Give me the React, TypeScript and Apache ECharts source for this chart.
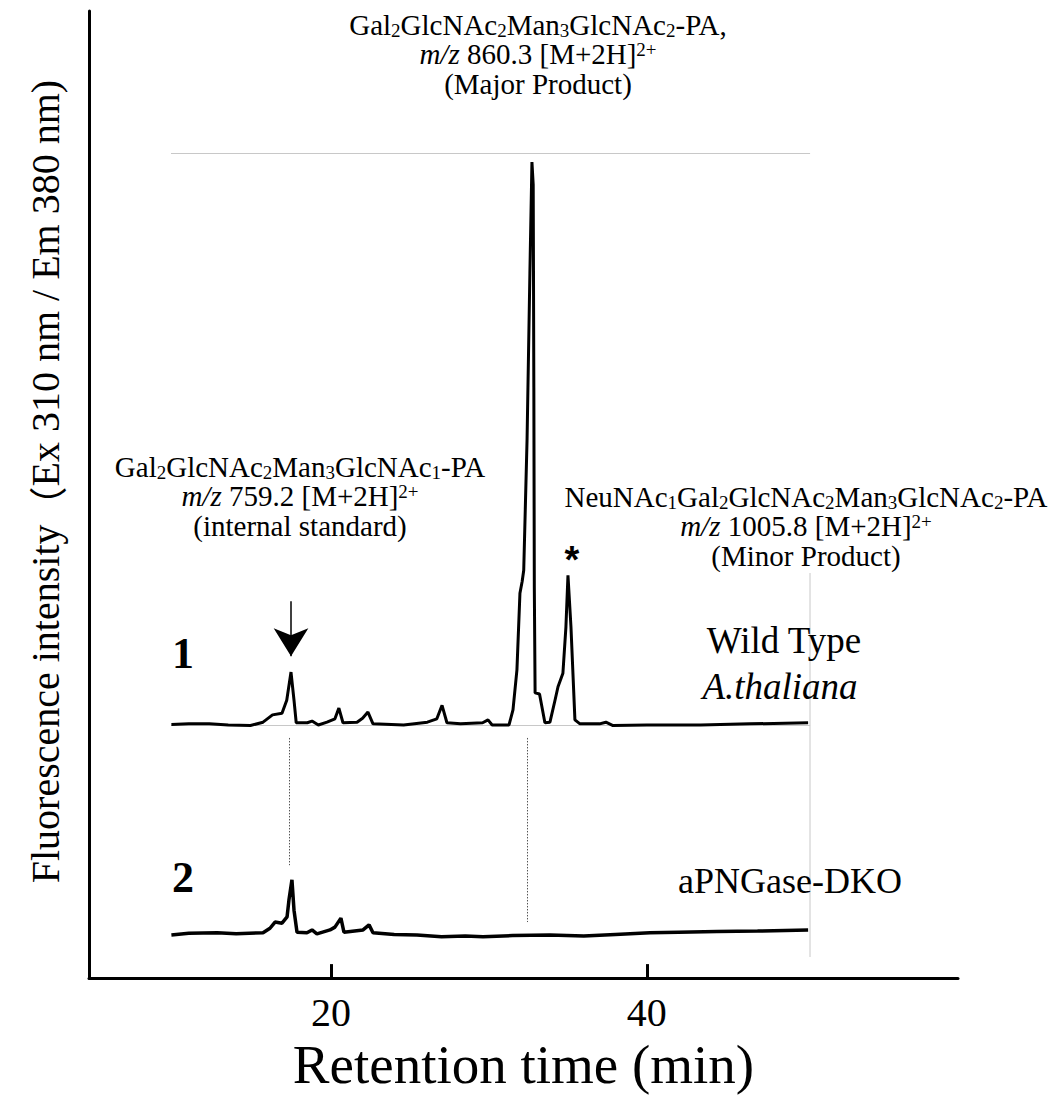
import React, { useEffect, useRef } from "react";
import * as echarts from "echarts";

// Retention time (min) / relative fluorescence, trace 1 (Wild Type A. thaliana)
const wildTypeTrace: [number, number][] = [
  [9.9, 0.1], [11.0, 0.2], [12.3, 0.2], [13.5, 0.0], [14.9, -0.1], [15.7, 0.5], [16.3, 1.8], [16.9, 2.1],
  [17.2, 4.4], [17.47, 9.4], [17.66, 4.4], [17.8, 0.4], [18.5, 0.4], [18.8, 0.7], [19.2, 0.0],
  [19.75, 0.5], [20.25, 1.1], [20.5, 3.0], [20.76, 0.4], [21.65, 0.5], [22.0, 1.2], [22.34, 2.3],
  [22.66, 0.2], [24.6, 0.0], [26.1, 0.5], [26.7, 1.1], [27.03, 3.5], [27.34, 0.4], [28.2, 0.2],
  [29.6, 0.4], [29.94, 0.9], [30.2, 0.0], [31.27, 0.0], [31.52, 2.7], [31.77, 9.8], [31.96, 23.4],
  [32.1, 25.5], [32.2, 27.5], [32.41, 50.6], [32.59, 80.3], [32.72, 100], [32.8, 96], [32.84, 60],
  [32.87, 24.5], [32.92, 5.7], [33.2, 5.5], [33.54, 0.4], [33.86, 0.5], [34.18, 4.4], [34.37, 6.8], [34.68, 9.2],
  [34.87, 17.4], [35.0, 26.6], [35.19, 17.4], [35.44, 0.9], [35.76, 0.2], [37.0, 0.2], [37.4, 0.5],
  [37.85, -0.1], [40.0, 0.0], [43.4, 0.0], [46.5, 0.2], [50.2, 0.4],
];

// trace 2 (aPNGase-DKO)
const dkoTrace: [number, number][] = [
  [9.9, 0.0], [11.0, 0.3], [12.8, 0.4], [14.0, 0.2], [15.7, 0.4], [16.14, 1.2], [16.46, 2.3],
  [16.9, 2.1], [17.22, 3.2], [17.34, 6.2], [17.53, 9.8], [17.66, 4.4], [17.85, 0.5], [18.48, 0.4],
  [18.8, 0.9], [19.11, 0.2], [19.94, 0.9], [20.25, 1.4], [20.63, 3.0], [20.82, 0.5], [22.03, 0.9],
  [22.41, 1.8], [22.66, 0.4], [24.0, 0.1], [25.44, 0.0], [27.0, -0.3], [28.5, -0.2], [29.62, -0.3],
  [31.5, -0.1], [33.86, 0.0], [36.0, -0.2], [38.0, 0.1], [40.19, 0.4], [42.0, 0.5], [44.43, 0.6],
  [47.0, 0.7], [50.2, 0.9],
];

const xTicks = [20, 40];
const peakGuides = [
  { time: 17.35, top: 35, bottom: 12.4 },
  { time: 32.4, top: 35, bottom: 2.3 },
];
const arrowMark = { time: 17.47, from: 22, to: 12.2 };

const SERIF = "'Liberation Serif', 'Times New Roman', serif";
const CJK = "'Noto Sans CJK JP', 'Noto Sans CJK SC', sans-serif";

const richStyles = {
  n: { fontSize: 29, fontFamily: SERIF, lineHeight: 29.5, color: "#000" },
  i: { fontSize: 29, fontFamily: SERIF, lineHeight: 29.5, fontStyle: "italic", color: "#000" },
  s: { fontSize: 19, fontFamily: SERIF, lineHeight: 7, verticalAlign: "bottom", color: "#000" },
  p: { fontSize: 19, fontFamily: SERIF, lineHeight: 14, verticalAlign: "top", color: "#000" },
};

const titleText =
  "{n|Gal}{s|2}{n|GlcNAc}{s|2}{n|Man}{s|3}{n|GlcNAc}{s|2}{n|-PA,}\n{i|m/z}{n| 860.3 [M+2H]}{p|2+}\n{n|(Major Product)}";
const leftText =
  "{n|Gal}{s|2}{n|GlcNAc}{s|2}{n|Man}{s|3}{n|GlcNAc}{s|1}{n|-PA}\n{i|m/z}{n| 759.2 [M+2H]}{p|2+}\n{n|(internal standard)}";
const rightText =
  "{n|NeuNAc}{s|1}{n|Gal}{s|2}{n|GlcNAc}{s|2}{n|Man}{s|3}{n|GlcNAc}{s|2}{n|-PA}\n{i|m/z}{n| 1005.8 [M+2H]}{p|2+}\n{n|(Minor Product)}";
const yTitle = "{a|Fluorescence intensity}{b|（}{a|Ex 310 nm / Em 380 nm)}";

export default function App() {
  const ref = useRef<HTMLDivElement>(null);
  useEffect(() => {
    if (!ref.current) return;
    const chart = echarts.init(ref.current, null, { renderer: "svg" });
    const hiddenAxis = {
      show: true,
      axisLine: { show: false },
      axisTick: { show: false },
      axisLabel: { show: false },
      splitLine: { show: false },
    };
    const grayAxisLine = { show: true, lineStyle: { color: "#c8c8c8", width: 1 } };
    chart.setOption({
      animation: false,
      backgroundColor: "#fff",
      grid: [
        { left: 89, top: 11, width: 869, height: 971 },
        { left: 171.4, top: 153, width: 638.3, height: 581 },
        { left: 171.4, top: 734, width: 638.3, height: 231 },
      ],
      xAxis: [
        {
          type: "value",
          gridIndex: 0,
          min: 4.68,
          max: 59.7,
          name: "Retention time (min)",
          nameLocation: "middle",
          nameGap: 56,
          nameTextStyle: { fontFamily: SERIF, fontSize: 55, color: "#000" },
          axisLine: { show: true, lineStyle: { color: "#000", width: 3 } },
          axisTick: { show: true, inside: true, length: 14, lineStyle: { color: "#000", width: 3 }, customValues: xTicks },
          axisLabel: { show: true, customValues: xTicks, fontFamily: SERIF, fontSize: 40, color: "#000", margin: 14 },
          splitLine: { show: false },
        },
        { type: "value", gridIndex: 1, min: 9.9, max: 50.3, position: "bottom", ...hiddenAxis, axisLine: grayAxisLine },
        { type: "value", gridIndex: 1, min: 9.9, max: 50.3, position: "top", ...hiddenAxis, axisLine: grayAxisLine },
        { type: "value", gridIndex: 2, min: 9.9, max: 50.3, ...hiddenAxis },
      ],
      yAxis: [
        {
          type: "value",
          gridIndex: 0,
          min: 0,
          max: 1,
          name: yTitle,
          nameLocation: "middle",
          nameRotate: 90,
          nameGap: 24,
          nameTextStyle: {
            color: "#000",
            padding: [0, 0, 0, 26],
            rich: {
              a: { fontFamily: SERIF, fontSize: 40, color: "#000" },
              b: { fontFamily: CJK, fontSize: 38, color: "#000" },
            },
          },
          axisLine: { show: true, lineStyle: { color: "#000", width: 3 } },
          axisTick: { show: false },
          axisLabel: { show: false },
          splitLine: { show: false },
        },
        { type: "value", gridIndex: 1, min: -1.6, max: 101.6, ...hiddenAxis },
        { type: "value", gridIndex: 2, min: -5.33, max: 35.7, ...hiddenAxis },
      ],
      series: [
        {
          type: "line",
          name: "Wild Type",
          xAxisIndex: 1,
          yAxisIndex: 1,
          data: wildTypeTrace,
          showSymbol: false,
          lineStyle: { color: "#000", width: 3 },
          silent: true,
          markLine: {
            silent: true,
            symbol: ["none", "arrow"],
            symbolSize: [26, 28],
            label: { show: false },
            lineStyle: { color: "#000", width: 1.5, type: "solid" },
            data: [[{ coord: [arrowMark.time, arrowMark.from] }, { coord: [arrowMark.time, arrowMark.to] }]],
          },
        },
        {
          type: "line",
          name: "aPNGase-DKO",
          xAxisIndex: 3,
          yAxisIndex: 2,
          data: dkoTrace,
          showSymbol: false,
          lineStyle: { color: "#000", width: 3.5 },
          silent: true,
          markLine: {
            silent: true,
            symbol: ["none", "none"],
            label: { show: false },
            lineStyle: { color: "#555", width: 1, type: [1.5, 1.5] },
            data: peakGuides.map((g) => [{ coord: [g.time, g.top] }, { coord: [g.time, g.bottom] }]),
          },
        },
      ],
      graphic: [
        { type: "line", shape: { x1: 810, y1: 573, x2: 810, y2: 957 }, style: { stroke: "#c8c8c8", lineWidth: 1 }, silent: true },
        { type: "text", x: 538, y: 10, style: { text: titleText, rich: richStyles, align: "center", verticalAlign: "top" } },
        { type: "text", x: 300, y: 452, style: { text: leftText, rich: richStyles, align: "center", verticalAlign: "top" } },
        { type: "text", x: 806, y: 482, style: { text: rightText, rich: richStyles, align: "center", verticalAlign: "top" } },
        { type: "text", x: 572, y: 560, style: { text: "*", fontFamily: "'Liberation Sans', sans-serif", fontWeight: "bold", fontSize: 38, fill: "#000", align: "center", verticalAlign: "middle" } },
        { type: "text", x: 183, y: 653, style: { text: "1", fontFamily: SERIF, fontWeight: "bold", fontSize: 44, fill: "#000", align: "center", verticalAlign: "middle" } },
        { type: "text", x: 183, y: 877, style: { text: "2", fontFamily: SERIF, fontWeight: "bold", fontSize: 44, fill: "#000", align: "center", verticalAlign: "middle" } },
        { type: "text", x: 784, y: 640, style: { text: "Wild Type", fontFamily: SERIF, fontSize: 37, fill: "#000", align: "center", verticalAlign: "middle" } },
        { type: "text", x: 780, y: 686, style: { text: "A.thaliana", fontFamily: SERIF, fontStyle: "italic", fontSize: 37, fill: "#000", align: "center", verticalAlign: "middle" } },
        { type: "text", x: 790, y: 881, style: { text: "aPNGase-DKO", fontFamily: SERIF, fontSize: 36, fill: "#000", align: "center", verticalAlign: "middle" } },
      ],
    });
    return () => chart.dispose();
  }, []);
  return <div ref={ref} style={{ position: "absolute", left: 0, top: 0, width: 1056, height: 1097 }} />;
}
